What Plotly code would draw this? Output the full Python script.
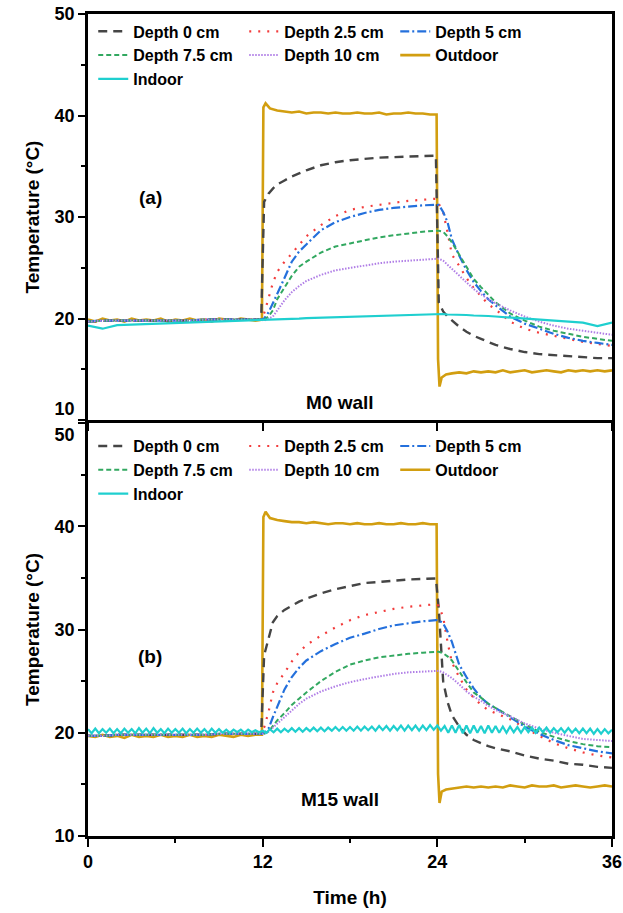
import plotly.graph_objects as go
import numpy as np

# ---------------- data ----------------
t_depth = [0, 1, 2, 3, 4, 5, 6, 7, 8, 9, 10, 11, 11.9, 12.1, 12.4, 12.7, 13, 13.5, 14, 14.5,
           15, 16, 17, 18, 19, 20, 21, 22, 23, 23.9, 24.1, 24.4, 24.7, 25, 25.5, 26, 26.5,
           27, 27.5, 28, 29, 30, 31, 32, 33, 34, 35, 36]

pre_a = [19.7, 19.8, 19.8, 19.8, 19.8, 19.8, 19.8, 19.8, 19.9, 19.9, 19.9, 19.9, 19.9]

# Panel (a) M0 wall
a_d0 = pre_a + [31.5, 32.3, 32.8, 33.2, 33.6, 34.0, 34.3, 34.6, 35.1, 35.4, 35.6, 35.75, 35.85,
                35.9, 35.95, 36.0, 36.05, 21.6, 20.7, 20.2, 19.8, 19.2, 18.7, 18.3, 18.0, 17.7,
                17.4, 17.0, 16.7, 16.5, 16.4, 16.3, 16.2, 16.1, 16.1]
a_d25 = pre_a + [20.5, 22.0, 23.5, 24.6, 25.6, 26.4, 27.3, 28.1, 29.2, 30.1, 30.7, 31.0, 31.2,
                 31.4, 31.6, 31.7, 31.8, 31.3, 30.5, 28.5, 26.3, 25.2, 24.0, 23.0, 22.2, 21.4,
                 20.9, 19.7, 19.0, 18.6, 18.3, 18.0, 17.7, 17.5, 17.3]
a_d5 = pre_a + [20.0, 20.6, 21.5, 22.5, 24.0, 25.6, 26.6, 27.3, 28.7, 29.5, 30.0, 30.4, 30.7,
                30.9, 31.05, 31.15, 31.2, 31.2, 30.5, 29.5, 27.8, 26.2, 24.8, 23.6, 22.7, 21.9,
                21.3, 20.2, 19.5, 19.0, 18.5, 18.1, 17.8, 17.6, 17.4]
a_d75 = pre_a + [19.9, 20.2, 20.8, 21.9, 23.0, 24.2, 25.1, 25.6, 26.5, 27.1, 27.4, 27.7, 28.0,
                 28.2, 28.4, 28.55, 28.65, 28.65, 28.55, 28.1, 27.5, 26.3, 25.0, 23.9, 23.1, 22.3,
                 21.6, 20.5, 19.8, 19.2, 18.8, 18.5, 18.2, 18.0, 17.8]
a_d10 = pre_a + [19.8, 20.0, 20.2, 20.8, 21.8, 22.6, 23.2, 23.7, 24.3, 24.75, 25.0, 25.2, 25.45,
                 25.6, 25.7, 25.8, 25.85, 25.9, 25.7, 25.3, 24.9, 24.2, 23.5, 22.9, 22.4, 21.9,
                 21.5, 20.8, 20.2, 19.7, 19.3, 19.0, 18.8, 18.6, 18.4]
a_indoor = [19.3, 19.0, 19.35, 19.4, 19.45, 19.5, 19.55, 19.6, 19.65, 19.7, 19.75, 19.8, 19.8,
            19.85, 19.85, 19.85, 19.9, 19.9, 19.95, 20.0, 20.05, 20.1, 20.15, 20.2, 20.25, 20.3,
            20.35, 20.4, 20.45, 20.5, 20.45, 20.45, 20.4, 20.4, 20.4, 20.35, 20.3, 20.3, 20.25,
            20.2, 20.1, 20.0, 19.9, 19.8, 19.7, 19.6, 19.25, 19.6]

pre_b = [19.7, 19.7, 19.8, 19.8, 19.8, 19.8, 19.8, 19.8, 19.8, 19.9, 19.9, 19.9, 19.9]

# Panel (b) M15 wall
b_d0 = pre_b + [27.5, 29.1, 30.7, 31.3, 31.9, 32.3, 32.7, 33.0, 33.5, 33.9, 34.2, 34.5, 34.6,
                34.75, 34.85, 34.9, 34.95, 32.0, 25.0, 23.0, 21.7, 20.6, 19.8, 19.3, 19.0, 18.7,
                18.5, 18.2, 17.8, 17.5, 17.3, 17.0, 16.9, 16.7, 16.6]
b_d25 = pre_b + [20.5, 22.0, 23.9, 24.8, 25.8, 26.9, 27.8, 28.5, 29.4, 30.2, 30.9, 31.4, 31.7,
                 32.0, 32.2, 32.35, 32.45, 32.3, 31.2, 28.8, 26.8, 25.4, 24.2, 23.4, 22.7, 22.2,
                 21.9, 21.3, 20.5, 19.7, 19.0, 18.5, 18.1, 17.8, 17.6]
b_d5 = pre_b + [20.0, 20.4, 21.5, 22.5, 24.2, 25.4, 26.3, 27.0, 27.9, 28.6, 29.2, 29.6, 30.05,
                30.4, 30.6, 30.8, 30.9, 30.9, 30.6, 29.8, 28.8, 26.6, 25.4, 24.3, 23.4, 22.8,
                22.4, 21.5, 20.6, 19.9, 19.3, 18.8, 18.5, 18.2, 18.0]
b_d75 = pre_b + [19.9, 20.1, 20.6, 21.2, 21.9, 22.7, 23.3, 23.9, 25.0, 25.9, 26.6, 27.0, 27.3,
                 27.5, 27.65, 27.75, 27.85, 27.85, 27.7, 27.4, 27.0, 25.9, 24.9, 23.9, 23.4, 22.8,
                 22.4, 21.6, 20.8, 20.1, 19.6, 19.2, 18.9, 18.7, 18.6]
b_d10 = pre_b + [19.9, 20.1, 20.5, 20.9, 21.5, 22.2, 22.8, 23.3, 24.0, 24.5, 24.9, 25.2, 25.45,
                 25.7, 25.85, 25.95, 26.05, 26.0, 25.85, 25.6, 25.3, 24.7, 24.0, 23.5, 23.1, 22.6,
                 22.2, 21.6, 20.9, 20.4, 20.0, 19.7, 19.4, 19.3, 19.2]

t_out = ([0, 0.5, 1, 1.5, 2, 2.5, 3, 3.5, 4, 4.5, 5, 5.5, 6, 6.5, 7, 7.5, 8, 8.5, 9, 9.5, 10,
          10.5, 11, 11.5, 11.95, 12.05, 12.2, 12.5]
         + [13, 13.5, 14, 14.5, 15, 15.5, 16, 16.5, 17, 17.5, 18, 18.5, 19, 19.5, 20, 20.5, 21,
            21.5, 22, 22.5, 23, 23.5, 23.95, 24.05, 24.15, 24.3, 24.6]
         + [25, 25.5, 26, 26.5, 27, 27.5, 28, 28.5, 29, 29.5, 30, 30.5, 31, 31.5, 32, 32.5, 33,
            33.5, 34, 34.5, 35, 35.5, 36])

a_outdoor = ([19.9, 19.7, 20.0, 19.8, 19.9, 19.7, 20.0, 19.8, 19.9, 19.8, 20.0, 19.7, 19.9, 19.8,
              20.0, 19.8, 19.9, 19.7, 20.0, 19.9, 19.8, 20.0, 19.9, 19.8, 19.9, 40.8, 41.2, 40.7]
             + [40.5, 40.4, 40.3, 40.4, 40.2, 40.3, 40.3, 40.2, 40.3, 40.2, 40.2, 40.3, 40.2, 40.2,
                40.3, 40.1, 40.2, 40.2, 40.3, 40.2, 40.2, 40.1, 40.1, 16.0, 13.3, 14.2, 14.5]
             + [14.6, 14.7, 14.6, 14.8, 14.7, 14.8, 14.7, 14.9, 14.7, 14.8, 14.9, 14.7, 14.8, 14.9,
                14.8, 14.7, 14.9, 14.8, 14.9, 14.8, 14.9, 14.8, 14.9])
b_outdoor = ([19.7, 19.6, 19.8, 19.6, 19.7, 19.5, 19.8, 19.6, 19.7, 19.6, 19.8, 19.6, 19.7, 19.6,
              19.8, 19.6, 19.7, 19.6, 19.8, 19.7, 19.6, 19.8, 19.7, 19.8, 19.8, 40.9, 41.4, 40.8]
             + [40.6, 40.5, 40.4, 40.4, 40.3, 40.4, 40.3, 40.2, 40.3, 40.3, 40.2, 40.3, 40.2, 40.2,
                40.3, 40.2, 40.2, 40.3, 40.2, 40.2, 40.3, 40.2, 40.2, 16.0, 13.2, 14.3, 14.5]
             + [14.6, 14.7, 14.8, 14.7, 14.8, 14.7, 14.8, 14.7, 14.9, 14.8, 14.7, 14.9, 14.8, 14.8,
                14.9, 14.7, 14.8, 14.9, 14.8, 14.7, 14.8, 14.9, 14.8])

t_indoor_b = np.arange(0, 36.001, 0.25)
b_indoor = ([20.35, 19.95, 20.4, 19.95, 20.35, 20.0, 20.4, 19.95, 20.35, 19.95, 20.4, 20.0, 20.35,
             19.95, 20.45, 20.0, 20.4, 19.95, 20.45, 20.0, 20.35, 19.95, 20.4, 20.0, 20.35, 20.0,
             20.4, 19.95, 20.35, 20.0, 20.4, 20.0, 20.35, 19.95, 20.4, 20.0, 20.35, 20.0, 20.3,
             20.0, 20.3, 20.05, 20.3, 20.0, 20.3, 20.05, 20.25, 20.05, 20.2]
            + [20.0, 20.35, 20.05, 20.4, 20.05, 20.4, 20.1, 20.45, 20.1, 20.45, 20.1, 20.45, 20.15,
               20.5, 20.15, 20.5, 20.15, 20.5, 20.2, 20.55, 20.2, 20.55, 20.2, 20.55, 20.2, 20.6,
               20.2, 20.6, 20.25, 20.6, 20.2, 20.65, 20.25, 20.65, 20.2, 20.65, 20.25, 20.7, 20.2,
               20.7, 20.25, 20.7, 20.2, 20.7, 20.25, 20.75, 20.3, 20.7]
            + [20.2, 20.65, 20.0, 20.7, 20.0, 20.75, 19.95, 20.7, 19.95, 20.7, 20.0, 20.65, 19.95,
               20.7, 20.0, 20.65, 20.0, 20.6, 20.0, 20.6, 20.05, 20.55, 20.0, 20.55, 20.05, 20.5,
               20.0, 20.5, 20.05, 20.5, 20.0, 20.45, 20.05, 20.45, 20.0, 20.45, 20.0, 20.4, 19.95,
               20.4, 19.95, 20.4, 19.9, 20.35, 19.9, 20.35, 19.95, 20.3])

x_ticks = [0, 12, 24, 36]
y_ticks = [10, 20, 30, 40, 50]
y_labels_top = ["10<br> ", "20", "30", "40", "50"]
y_labels_bottom = ["10", "20", "30", "40", " <br>50"]

# ---------------- styles ----------------
FONT = "Liberation Sans, Arial, sans-serif"
styles = {
    "Depth 0 cm":   dict(color="#454545", width=2.4, dash="9px,6px"),
    "Depth 2.5 cm": dict(color="#f23c3c", width=2.2, dash="2px,7px"),
    "Depth 5 cm":   dict(color="#2470dc", width=2.2, dash="9px,3px,2px,3px"),
    "Depth 7.5 cm": dict(color="#32a860", width=2.0, dash="5px,3px"),
    "Depth 10 cm":  dict(color="#b07ee6", width=2.0, dash="1.5px,1.5px"),
    "Outdoor":      dict(color="#d29e10", width=2.6),
    "Indoor":       dict(color="#1fcfcf", width=2.2),
}
rank = {"Depth 0 cm": 1, "Depth 2.5 cm": 2, "Depth 5 cm": 3, "Depth 7.5 cm": 4,
        "Depth 10 cm": 5, "Outdoor": 6, "Indoor": 7}

fig = go.Figure()

def add(name, x, y, xa, ya, lg):
    fig.add_trace(go.Scatter(x=x, y=y, mode="lines", name=name, line=styles[name],
                             xaxis=xa, yaxis=ya, legend=lg, legendrank=rank[name]))

panels = [
    ("x", "y", "legend", a_outdoor, [a_d0, a_d25, a_d5, a_d75, a_d10], t_depth, a_indoor),
    ("x2", "y2", "legend2", b_outdoor, [b_d0, b_d25, b_d5, b_d75, b_d10], t_indoor_b, b_indoor),
]
names = ["Depth 0 cm", "Depth 2.5 cm", "Depth 5 cm", "Depth 7.5 cm", "Depth 10 cm"]
for xa, ya, lg, outd, depths, t_in, indo in panels:
    add("Outdoor", t_out, outd, xa, ya, lg)
    for nm, vals in zip(names, depths):
        add(nm, t_depth, vals, xa, ya, lg)
    add("Indoor", t_in, indo, xa, ya, lg)

tickfont = dict(family=FONT, size=18, color="black", weight="bold")
titlefont = dict(family=FONT, size=19, color="black", weight="bold")

common_x = dict(range=[0, 36], tickvals=x_ticks, showline=True, linecolor="black", linewidth=2.5,
                mirror=True, ticks="outside", ticklen=8, tickwidth=2, tickcolor="black",
                showgrid=False, zeroline=False, tickfont=tickfont, automargin=False)
common_y = dict(range=[10, 50], tickvals=y_ticks, showline=True, linecolor="black", linewidth=2.5,
                mirror=True, ticks="outside", ticklen=7, tickwidth=2, tickcolor="black",
                showgrid=False, zeroline=False, tickfont=tickfont, automargin=False,
                minor=dict(tickvals=[15, 25, 35, 45], ticks="outside", ticklen=4, tickwidth=2,
                           tickcolor="black"),
                title=dict(text="Temperature (°C)", font=titlefont, standoff=10))

legend_common = dict(orientation="h", x=0.01, xanchor="left", yanchor="top",
                     entrywidth=106, entrywidthmode="pixels", bgcolor="rgba(0,0,0,0)",
                     font=dict(family=FONT, size=16, color="black", weight="bold"),
                     tracegroupgap=0, itemwidth=30)

fig.update_layout(
    width=623, height=913,
    margin=dict(l=88, r=11, t=14, b=77),
    plot_bgcolor="white", paper_bgcolor="white",
    xaxis=dict(common_x, anchor="y", showticklabels=False),
    yaxis=dict(common_y, domain=[0.506, 1.0], anchor="x", ticktext=y_labels_top),
    xaxis2=dict(common_x, anchor="y2",
                minor=dict(tickvals=[6, 18, 30], ticks="outside", ticklen=4, tickwidth=2,
                           tickcolor="black"),
                title=dict(text="Time (h)", font=titlefont, standoff=20)),
    yaxis2=dict(common_y, domain=[0.0, 0.5024], anchor="x2", ticktext=y_labels_bottom),
    legend=dict(legend_common, y=0.9995),
    legend2=dict(legend_common, y=0.495),
    annotations=[
        dict(text="(a)", x=4.26, y=31.9, xref="x", yref="y", showarrow=False,
             font=dict(family=FONT, size=19, color="black", weight="bold")),
        dict(text="M0 wall", x=17.3, y=11.7, xref="x", yref="y", showarrow=False,
             font=dict(family=FONT, size=19, color="black", weight="bold")),
        dict(text="(b)", x=4.26, y=27.35, xref="x2", yref="y2", showarrow=False,
             font=dict(family=FONT, size=19, color="black", weight="bold")),
        dict(text="M15 wall", x=17.3, y=13.5, xref="x2", yref="y2", showarrow=False,
             font=dict(family=FONT, size=19, color="black", weight="bold")),
    ],
)

fig.write_html("out.html", config={"displayModeBar": False},
               post_script="document.body.style.margin='0';")
